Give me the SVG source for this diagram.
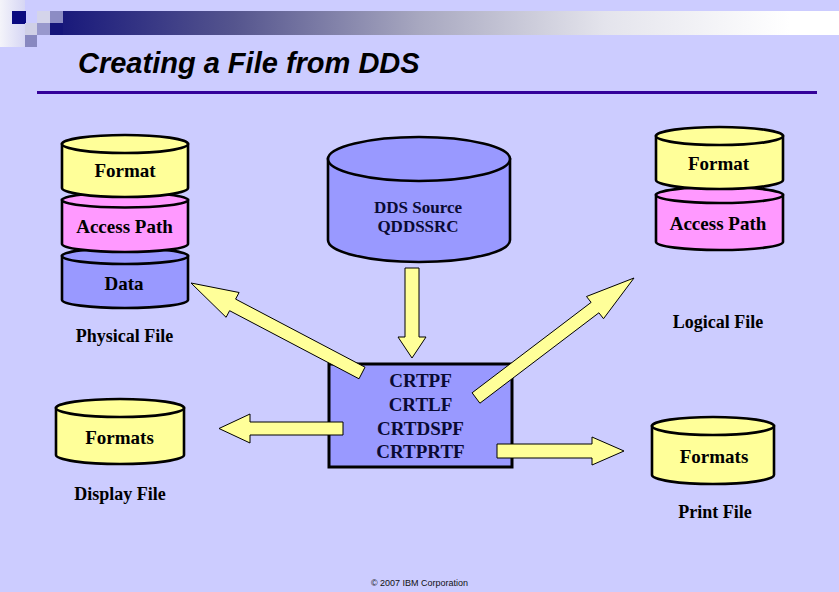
<svg xmlns="http://www.w3.org/2000/svg" width="839" height="592" viewBox="0 0 839 592">
<defs>
<linearGradient id="bar" gradientUnits="userSpaceOnUse" x1="50" y1="0" x2="790" y2="0">
<stop offset="0" stop-color="#15157a"/>
<stop offset="0.25" stop-color="#55558e"/>
<stop offset="0.5" stop-color="#a8a8c0"/>
<stop offset="0.75" stop-color="#e4e4ec"/>
<stop offset="1" stop-color="#ffffff"/>
</linearGradient>
<linearGradient id="corner" x1="0" y1="0" x2="1" y2="0">
<stop offset="0" stop-color="#f4f4fa"/>
<stop offset="1" stop-color="#d6d6f4"/>
</linearGradient>
<style>
.cyl{stroke:#000;stroke-width:2.6}
.yel{fill:#FFFF99}
.pnk{fill:#FF99FF}
.blu{fill:#9999FF}
.t{font-family:"Liberation Serif","Times New Roman",serif;font-weight:bold;fill:#000;text-anchor:middle}
.in{font-size:19px}
.lbl{font-size:18px}
.dds{font-size:17px;fill:#0a0a33}
.box{font-size:19px;fill:#0a0a33}
.arr{fill:#FFFF99;stroke:#000;stroke-width:1;stroke-linejoin:miter}
</style>
</defs>
<rect width="839" height="592" fill="#CCCCFF"/>
<g id="header">
<rect x="0" y="0" width="25" height="47" fill="url(#corner)"/>
<rect x="63" y="11" width="776" height="24" fill="url(#bar)"/>
<rect x="12" y="11" width="14" height="13" fill="#0a0a80"/>
<rect x="37" y="11" width="13" height="12" fill="#d4d4ea"/>
<rect x="50" y="11" width="13" height="12" fill="#8c8cc4"/>
<rect x="25" y="23" width="12" height="12" fill="#d0d0e6"/>
<rect x="37" y="23" width="13" height="12" fill="#9898cc"/>
<rect x="50" y="23" width="13" height="12" fill="#15157a"/>
<rect x="25" y="35" width="12" height="12" fill="#8888c0"/>
<text x="78" y="73" font-family="'Liberation Sans',Arial,sans-serif" font-weight="bold" font-style="italic" font-size="29" fill="#000">Creating a File from DDS</text>
<rect x="37" y="91" width="780" height="3" fill="#330099"/>
</g>
<g id="physical-file">
<path class="cyl blu" d="M62,256 V300 A63,8 0 0 0 188,300 V256 Z"/>
<ellipse class="cyl blu" cx="125" cy="256" rx="63" ry="8"/>
<path class="cyl pnk" d="M62,200 V244 A63,8 0 0 0 188,244 V200 Z"/>
<ellipse class="cyl pnk" cx="125" cy="200" rx="63" ry="7.5"/>
<path class="cyl yel" d="M62,144 V188 A63,9 0 0 0 188,188 V144 Z"/>
<ellipse class="cyl yel" cx="125" cy="144" rx="63" ry="9"/>
<text class="t in" x="125" y="177">Format</text>
<text class="t in" x="124.5" y="233">Access Path</text>
<text class="t in" x="124" y="290">Data</text>
<text class="t lbl" x="124.5" y="342">Physical File</text>
</g>
<g id="dds-source">
<path class="cyl blu" d="M328,159 V240 A91,22 0 0 0 510,240 V159 Z"/>
<ellipse class="cyl blu" cx="419" cy="159" rx="91" ry="22"/>
<text class="t dds" x="418" y="213">DDS Source</text>
<text class="t dds" x="418" y="232">QDDSSRC</text>
</g>
<g id="logical-file">
<path class="cyl pnk" d="M656,195 V242 A63.5,8 0 0 0 783,242 V195 Z"/>
<ellipse class="cyl pnk" cx="719.5" cy="195" rx="63.5" ry="8"/>
<path class="cyl yel" d="M656,136 V180 A63.5,9 0 0 0 783,180 V136 Z"/>
<ellipse class="cyl yel" cx="719.5" cy="136" rx="63.5" ry="9"/>
<text class="t in" x="718.5" y="170">Format</text>
<text class="t in" x="718" y="230">Access Path</text>
<text class="t lbl" x="718" y="328">Logical File</text>
</g>
<g id="display-file">
<path class="cyl yel" d="M56,408 V455 A64,9 0 0 0 184,455 V408 Z"/>
<ellipse class="cyl yel" cx="120" cy="408" rx="64" ry="9"/>
<text class="t in" x="119.5" y="444">Formats</text>
<text class="t lbl" x="120" y="500">Display File</text>
</g>
<g id="print-file">
<path class="cyl yel" d="M652,426 V475 A61,9 0 0 0 774,475 V426 Z"/>
<ellipse class="cyl yel" cx="713" cy="426" rx="61" ry="9"/>
<text class="t in" x="714" y="463">Formats</text>
<text class="t lbl" x="715" y="518">Print File</text>
</g>
<g id="commands">
<rect x="329" y="364" width="183" height="103" fill="#9999FF" stroke="#000" stroke-width="3"/>
<text class="t box" x="420.5" y="387">CRTPF</text>
<text class="t box" x="420.5" y="411">CRTLF</text>
<text class="t box" x="420.5" y="435">CRTDSPF</text>
<text class="t box" x="420.5" y="458">CRTPRTF</text>
</g>
<g id="connectors">
<polygon class="arr" points="405,268 419,268 419,337 426,337 412,358 398,337 405,337"/>
<polygon class="arr" points="365,367.2 235.6,299.1 239.1,292.5 191,283 226.1,317.3 229.6,310.7 359,378.8"/>
<polygon class="arr" points="479.9,403.2 598.9,312.8 603.5,318.7 634,278 586.5,296.5 591.1,302.4 472.1,392.8"/>
<polygon class="arr" points="343,422 250,422 250,414 219,428.5 250,443 250,435 343,435"/>
<polygon class="arr" points="497,444 592,444 592,437 624,451 592,465 592,458 497,458"/>
</g>
<text x="419.5" y="586" font-family="'Liberation Sans',Arial,sans-serif" font-size="9" fill="#111" text-anchor="middle">© 2007 IBM Corporation</text>
</svg>
